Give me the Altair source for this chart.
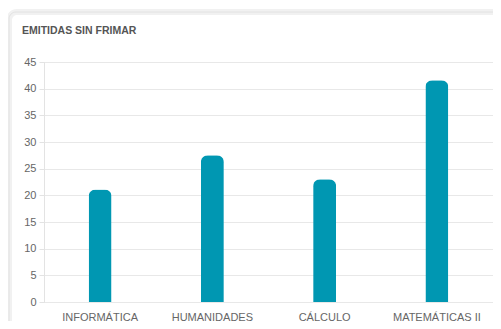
import altair as alt
import pandas as pd

categories = ["INFORMÁTICA", "HUMANIDADES", "CÁLCULO", "MATEMÁTICAS II"]
values = [21.1, 27.5, 23.0, 41.6]
y_ticks = [0, 5, 10, 15, 20, 25, 30, 35, 40, 45]
title_text = "EMITIDAS SIN FRIMAR"

df = pd.DataFrame({"materia": categories, "valor": values})
card_df = pd.DataFrame({"card": [1], "title": [title_text]})

# decorative card frame (soft shadow + edge)
card_shadow = alt.Chart(card_df).mark_rect(
    fillOpacity=0, stroke="#f1f1f1", strokeWidth=6, cornerRadius=8
).encode(
    x=alt.value(-35), x2=alt.value(520), y=alt.value(-50), y2=alt.value(300)
)
card_edge = alt.Chart(card_df).mark_rect(
    fillOpacity=0, stroke="#e2e2e2", strokeWidth=1, cornerRadius=7
).encode(
    x=alt.value(-35), x2=alt.value(520), y=alt.value(-50), y2=alt.value(300)
)

title = alt.Chart(card_df).mark_text(
    align="left",
    baseline="middle",
    font="Liberation Sans",
    fontSize=10.5,
    fontWeight="bold",
    color="#555555",
).encode(
    x=alt.value(-22), y=alt.value(-31), text="title:N"
)

bars = alt.Chart(df).mark_bar(
    color="#0097b2",
    size=23,
    cornerRadiusTopLeft=7,
    cornerRadiusTopRight=7,
).encode(
    x=alt.X(
        "materia:N",
        sort=categories,
        scale=alt.Scale(paddingInner=0, paddingOuter=0),
        axis=alt.Axis(
            title=None,
            labelAngle=0,
            ticks=False,
            domain=False,
            labelColor="#666666",
            labelFont="Liberation Sans",
            labelFontSize=11,
            labelPadding=9,
            grid=False,
        ),
    ),
    y=alt.Y(
        "valor:Q",
        scale=alt.Scale(domain=[0, 45], nice=False),
        axis=alt.Axis(
            title=None,
            values=y_ticks,
            tickColor="#e3e3e3",
            tickSize=5,
            domainColor="#e3e3e3",
            gridColor="#e8e8e8",
            labelColor="#666666",
            labelFont="Liberation Sans",
            labelFontSize=11,
            labelPadding=3,
        ),
    ),
)

chart = alt.layer(card_shadow, card_edge, title, bars).properties(
    width=449,
    height=240,
    autosize=alt.AutoSizeParams(type="none"),
    padding={"left": 36, "top": 54, "right": 0, "bottom": 19},
).configure_view(stroke=None).configure(background="white")

chart.save("out.html", embed_options={"renderer": "svg", "actions": False})
